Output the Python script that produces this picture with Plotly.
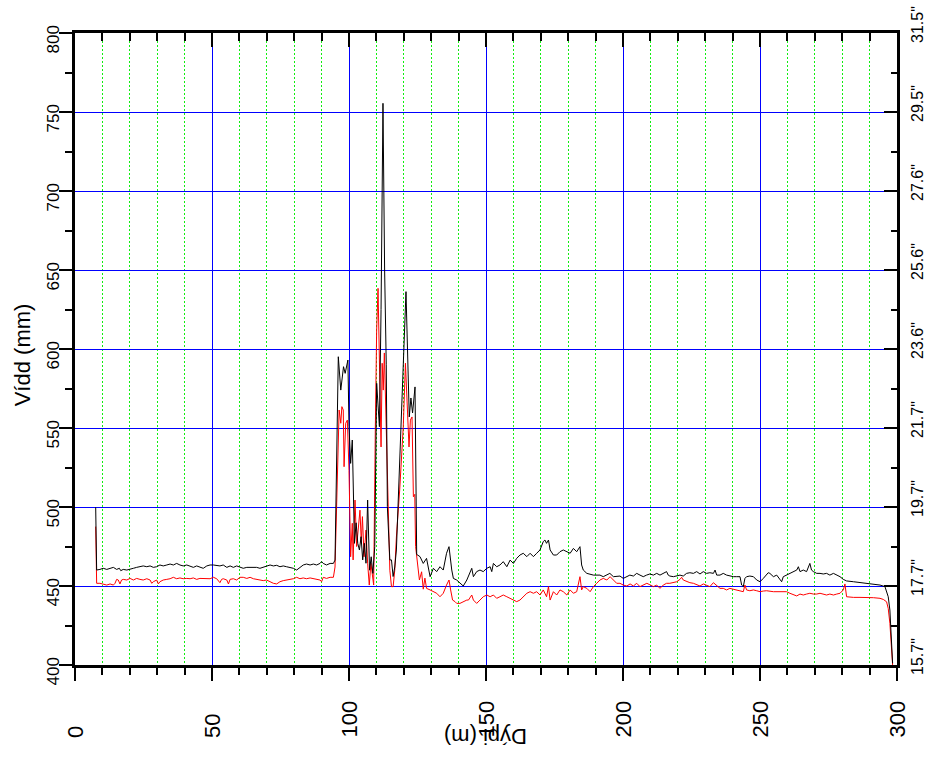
import plotly.graph_objects as go

# Borhola: vídd (mm) eftir dýpi (m) - tvær mælingar
depth_max = [7.55, 7.9, 9.1, 10.3, 11.6, 12.8, 14.0, 15.2, 16.2, 16.7, 17.6, 18.9, 20.1, 21.3, 22.5,
             23.7, 24.9, 26.2, 27.4, 28.6, 29.8, 31.0, 32.2, 33.5, 34.7, 35.9, 37.1, 38.3, 39.5, 40.8,
             42.0, 43.2, 44.4, 45.6, 46.8, 48.1, 49.3, 50.5, 51.7, 52.9, 54.1, 55.4, 56.6, 57.8, 59.0,
             60.2, 61.4, 62.7, 63.9, 65.1, 66.3, 67.5, 68.7, 69.9, 71.2, 72.4, 73.6, 74.8, 76.0, 77.2,
             78.5, 79.7, 80.9, 82.1, 83.3, 84.5, 85.8, 87.0, 88.2, 89.4, 90.0, 90.6, 91.8, 93.1, 94.3,
             94.9,
             96.1, 97.0, 98.0, 98.6, 99.6, 100.0, 100.6, 101.2, 101.7, 102.0, 102.6, 103.2, 103.8, 104.4,
             105.0, 105.6, 106.2, 106.8, 107.5, 108.1, 108.7, 109.4, 110.1, 110.5, 111.1, 111.7, 112.4,
             113.0, 113.6, 114.0, 114.9, 115.5, 116.1, 116.7, 117.3, 120.8, 122.0, 122.6, 123.2, 124.1,
             124.7,
             125.9, 127.1, 128.3, 129.6, 130.8, 132.0, 133.2, 134.4, 135.6, 136.5, 137.5, 138.1, 139.3,
             140.5, 141.7, 143.0, 144.2, 144.8, 145.4, 146.6, 147.8, 149.0, 150.3, 151.5, 152.1, 152.7,
             153.9, 155.1, 156.3, 157.6, 158.8, 160.0, 161.2, 162.4, 163.6, 164.9, 166.1, 167.3, 168.5,
             169.7, 170.9, 171.5, 172.1, 172.8, 173.4, 174.6, 175.8, 177.0, 178.2, 179.5, 180.7, 181.9,
             183.1, 184.3, 184.9, 185.5, 186.8,
             189.2, 191.6, 192.8, 194.0, 195.2, 196.5, 197.7, 198.9, 200.1, 201.3, 202.5, 203.8, 205.0,
             206.2, 207.4, 208.6, 209.8, 211.1, 212.3, 213.5, 214.7, 215.9, 216.5, 217.1, 218.4, 219.6,
             220.8, 222.0, 223.2, 224.4, 225.7, 226.9, 228.1, 229.3, 230.5, 231.7, 233.0, 233.6, 234.2,
             235.4, 236.6, 237.8, 239.0, 240.3, 241.5, 242.7, 243.3, 243.9, 244.5, 245.1, 246.3, 247.6,
             248.8, 250.0, 251.2, 252.4, 253.0, 253.6, 254.9, 256.1, 257.3, 257.9, 258.5, 259.7, 260.9,
             262.2, 263.4, 264.0, 264.6, 265.8, 267.0, 268.2, 268.8, 269.5, 270.7, 271.9, 273.1, 274.3,
             275.5, 276.8, 278.0, 279.2, 280.4, 281.6, 284.1, 286.5, 288.9, 291.4, 293.8, 295.6, 296.8,
             297.4, 298.0, 298.4]
width_max = [499.8, 460.1, 460.5, 461.2, 460.5, 461.2, 461.8, 460.5, 461.2, 459.7, 460.5, 460.1, 460.5, 461.2, 461.8,
             462.2, 462.7, 462.2, 462.7, 461.8, 462.2, 463.3, 462.7, 463.3, 463.9, 463.3, 464.3, 463.3, 462.7, 463.3,
             462.7, 461.8, 462.7, 461.8, 461.2, 462.7, 463.3, 463.3, 463.1, 462.7, 463.3, 461.8, 462.7, 461.8, 462.7,
             461.8, 461.2, 461.8, 461.8, 462.2, 461.8, 461.2, 461.8, 462.7, 463.3, 462.7, 463.1, 462.2, 462.7, 462.2,
             461.8, 461.2, 460.1, 461.8, 463.3, 463.9, 463.3, 463.9, 463.3, 464.3, 465.4, 464.3, 463.3, 464.3, 464.3,
             466.4,
             595.1, 574.0, 588.8, 584.6, 593.0, 550.8, 527.6, 542.4, 502.5, 477.0, 490.0, 477.0, 472.8, 481.2,
             466.5, 477.0, 464.4, 504.4, 460.0, 468.5, 458.0, 474.9, 578.3, 565.6, 550.8, 625.0, 755.5,
             650.0, 590.0, 500.2, 466.5, 466.5, 456.0, 462.0, 472.8, 636.3, 557.0, 569.0, 559.5, 576.0,
             470.0,
             468.6, 464.3, 467.5, 455.9, 461.2, 459.1, 462.2, 460.1, 470.7, 474.9, 460.1, 454.8, 453.8,
             451.7, 450.0, 453.8, 459.1, 461.2, 455.9, 459.1, 460.1, 459.1, 461.2, 462.2, 459.1, 464.3,
             462.2, 463.3, 465.4, 462.2, 466.4, 464.3, 467.5, 469.6, 470.7, 468.6, 470.7, 468.6, 470.7,
             472.8, 478.1, 479.1, 477.0, 479.1, 472.8, 469.6, 469.6, 471.7, 472.8, 471.7, 470.7, 473.8,
             471.7, 474.9, 463.3, 460.1, 458.0,
             456.9, 456.9, 455.9, 456.9, 458.0, 455.9, 455.9, 456.3, 454.8, 455.9, 456.9, 456.3, 458.0,
             456.9, 455.9, 456.9, 457.6, 456.9, 458.0, 456.9, 458.0, 459.1, 456.9, 456.3, 455.9, 456.3,
             456.9, 456.3, 458.0, 458.4, 458.0, 459.1, 457.6, 459.1, 458.0, 458.4, 458.0, 460.1, 456.9,
             456.9, 458.0, 456.9, 456.3, 455.9, 455.9, 455.9, 450.6, 449.6, 454.8, 455.9, 456.3, 455.9,
             453.8, 452.7, 454.8, 456.9, 458.4, 458.0, 455.9, 456.9, 453.8, 452.7, 455.9, 456.9, 458.0,
             459.1, 460.1, 462.2, 459.1, 460.1, 459.1, 464.3, 460.1, 459.1, 458.0, 458.0, 457.6, 458.0,
             456.9, 458.0, 456.9, 455.9, 454.2, 453.2, 452.7, 452.1, 451.7, 451.3, 450.6, 449.6, 443.2,
             434.8, 418.0, 401.0]

depth_min = [7.55, 7.9, 9.1, 10.3, 11.6, 12.8, 14.0, 14.6, 15.2, 15.8, 16.4, 17.0, 17.6, 18.9, 20.1,
             21.3, 22.5, 23.7, 24.9, 26.2, 27.4, 28.0, 28.6, 29.8, 30.4, 31.0, 32.2, 33.5, 34.7, 35.9,
             37.1, 38.3, 39.5, 40.8, 42.0, 43.2, 44.4, 45.6, 46.8, 48.1, 49.3, 50.5, 51.7, 52.9, 53.5,
             54.1, 55.4, 56.0, 56.6, 57.8, 59.0, 60.2, 61.4, 62.7, 63.9, 65.1, 66.3, 67.5, 68.7, 69.9,
             71.2, 72.4, 73.6, 74.8, 76.0, 77.2, 78.5, 79.7, 80.9, 82.1, 83.3, 84.5, 85.8, 87.0, 88.2,
             89.4, 90.0, 90.6, 91.8, 93.1, 94.3, 94.9,
             96.4, 97.0, 97.4, 97.9, 98.2, 98.8, 99.4, 100.0, 100.6, 101.2, 101.5, 102.2, 102.8, 103.4,
             104.0, 104.5, 104.9, 105.5, 106.2, 106.8, 107.4, 108.0, 108.6, 109.0, 109.6, 110.1, 110.6,
             111.3, 111.7, 112.1, 112.5, 112.9, 113.7, 114.3, 114.9, 115.5, 116.1, 116.7, 117.3, 118.5,
             119.8, 120.6, 121.3, 121.9, 122.4, 123.0, 123.5, 124.0, 124.3, 125.1, 125.7, 126.5, 127.1,
             127.7,
             128.3, 129.6, 130.8, 132.0, 133.2, 134.4, 135.6, 136.5, 137.1, 137.8, 138.7, 139.3, 140.5,
             141.7, 143.0, 143.6, 144.2, 144.8, 145.4, 146.6, 147.8, 149.0, 150.3, 151.5, 152.7, 153.9,
             155.1, 156.3, 157.6, 158.8, 160.0, 161.2, 162.4, 163.6, 164.9, 166.1, 167.3, 168.5, 169.7,
             170.9, 172.1, 172.8, 173.4, 174.6, 175.8, 177.0, 178.2, 179.5, 180.7, 181.9, 183.1, 184.3,
             184.9, 185.5, 186.8, 188.0, 189.2, 190.4, 191.6, 192.8, 194.1, 195.3, 196.5, 197.7, 198.9,
             200.1, 201.4, 202.6, 203.8, 205.0, 206.2, 207.4, 208.7,
             209.8, 211.1, 212.3, 213.5, 214.7, 215.9, 217.1, 218.4, 219.6, 220.8, 221.4, 222.0, 223.2,
             224.4, 225.7, 226.9, 228.1, 229.3, 230.5, 231.7, 233.0, 234.2, 235.4, 236.6, 237.8, 239.0,
             240.3, 241.5, 242.7, 243.9, 244.5, 245.1, 246.3, 247.6, 248.8, 250.0, 251.2, 252.4, 254.9,
             257.3, 259.7, 260.9, 262.2, 263.4, 264.6, 265.8, 267.0, 268.2, 269.5, 270.7, 271.9, 273.1,
             274.3, 275.5, 276.8, 278.0, 279.2, 280.4, 281.0, 281.6, 282.8, 284.1, 286.5, 288.9, 291.4,
             293.8, 295.0, 296.2, 296.8, 297.4, 298.0, 298.4]
width_min = [487.6, 451.7, 451.7, 451.3, 450.6, 451.3, 450.6, 451.7, 454.2, 453.8, 451.3, 453.8, 454.2, 453.8, 454.8,
             453.8, 454.8, 454.2, 453.8, 454.6, 453.8, 451.7, 452.7, 453.8, 451.3, 452.7, 453.8, 454.2, 454.6, 455.5,
             454.6, 455.1, 454.6, 454.8, 454.6, 455.1, 454.2, 454.8, 454.6, 454.8, 454.6, 455.5, 454.6, 452.1, 454.2,
             454.6, 453.8, 451.3, 454.2, 454.6, 453.8, 455.5, 455.5, 454.8, 455.5, 454.6, 454.2, 453.8, 453.4, 453.8,
             452.7, 451.7, 451.3, 452.7, 453.4, 453.8, 454.2, 454.6, 455.5, 454.6, 455.1, 454.6, 455.1, 454.6, 454.2,
             453.8, 452.7, 455.5, 454.8, 455.5, 455.5, 462.0,
             561.4, 553.0, 563.5, 561.4, 525.5, 553.0, 555.0, 523.0, 468.5, 489.7, 466.5, 504.4, 475.0, 485.4,
             498.0, 477.0, 493.9, 468.5, 485.4, 464.4, 450.6, 464.4, 455.9, 450.6, 548.7, 612.0, 638.4,
             574.0, 538.0, 591.0, 574.0, 597.5, 538.0, 485.0, 460.0, 449.6, 449.6, 460.0, 481.0, 510.8,
             550.8, 591.0, 555.0, 538.0, 555.0, 557.0, 506.5, 508.0, 475.0, 462.0, 453.8, 459.0, 448.0,
             455.0,
             448.5, 447.5, 446.4, 445.4, 443.2, 445.4, 450.6, 453.8, 447.5, 441.1, 440.1, 439.0, 439.0,
             440.1, 441.1, 441.1, 443.2, 444.3, 441.1, 439.0, 441.1, 443.2, 444.3, 443.2, 444.3, 442.2,
             443.2, 444.3, 443.2, 442.2, 441.1, 440.1, 441.1, 443.2, 445.4, 446.4, 445.4, 446.4, 444.3,
             447.5, 443.2, 449.6, 441.1, 446.4, 444.3, 447.5, 446.4, 444.3, 447.5, 445.4, 446.4, 455.9,
             447.5, 449.6, 448.5, 446.4, 449.6, 451.7, 453.8, 454.8, 453.8, 455.9, 453.8, 451.7, 451.7,
             450.6, 450.0, 451.3, 450.0, 451.7, 449.6, 450.6, 451.7,
             450.8, 449.6, 450.6, 448.5, 450.6, 451.7, 451.7, 452.1, 452.7, 454.2, 455.5, 453.8, 452.7,
             452.1, 451.7, 450.6, 450.0, 451.3, 450.6, 449.6, 452.1, 450.0, 448.5, 448.5, 447.5, 448.5,
             447.9, 447.5, 447.0, 446.4, 450.6, 447.5, 447.0, 447.5, 447.0, 446.4, 446.8, 447.0, 446.4,
             446.4, 446.4, 445.4, 444.3, 443.7, 444.9, 444.3, 444.9, 445.4, 444.9, 444.9, 445.4, 444.9,
             444.3, 444.9, 444.3, 444.9, 445.4, 447.5, 451.3, 443.2, 442.8, 442.8, 442.8, 442.8, 442.6,
             442.2, 441.5, 440.0, 435.8, 426.4, 407.4, 400.0]

# Ásar og merkingar
x_ticks = [0, 50, 100, 150, 200, 250, 300]
y_ticks = [400, 450, 500, 550, 600, 650, 700, 750, 800]
inch_labels = ['15.7"', '17.7"', '19.7"', '21.7"', '23.6"', '25.6"', '27.6"', '29.5"', '31.5"']
x_title = "Dýpi (m)"
y_title = "Vídd (mm)"

FONT = "Liberation Sans, Arial, Helvetica, sans-serif"

fig = go.Figure()
fig.add_trace(go.Scatter(x=depth_min, y=width_min, mode="lines",
                         line=dict(color="#ff0000", width=1),
                         xaxis="x", yaxis="y", showlegend=False, hoverinfo="skip"))
fig.add_trace(go.Scatter(x=depth_max, y=width_max, mode="lines",
                         line=dict(color="#000000", width=1),
                         xaxis="x2", yaxis="y2", showlegend=False, hoverinfo="skip"))

frame = dict(showline=True, linecolor="black", linewidth=2.5, tickcolor="black", tickwidth=2.2,
             showticklabels=False, zeroline=False, fixedrange=True)

fig.update_layout(
    width=932, height=765,
    margin=dict(l=75, r=35, t=33, b=100, pad=0),
    paper_bgcolor="white", plot_bgcolor="white",
    font=dict(family=FONT, color="black"),
    xaxis=dict(range=[0, 300], tickmode="array", tickvals=x_ticks, ticks="outside", ticklen=13,
               showgrid=True, gridcolor="#0000ff", gridwidth=1,
               minor=dict(tickmode="linear", tick0=0, dtick=10, ticks="outside", ticklen=7,
                          tickwidth=2.2, tickcolor="black", showgrid=True,
                          gridcolor="#11ee11", gridwidth=1, griddash="2px,2px"),
               **frame),
    xaxis2=dict(range=[0, 300], overlaying="x", side="top", anchor="y", tickmode="array",
                tickvals=x_ticks, ticks="inside", ticklen=14, showgrid=False,
                minor=dict(tickmode="linear", tick0=0, dtick=10, ticks="inside", ticklen=8,
                           tickwidth=2.2, tickcolor="black", showgrid=False),
                **frame),
    yaxis=dict(range=[400, 800], tickmode="array", tickvals=y_ticks, ticks="outside", ticklen=13,
               showgrid=True, gridcolor="#0000ff", gridwidth=1,
               minor=dict(tickmode="linear", tick0=400, dtick=25, ticks="outside", ticklen=7,
                          tickwidth=2.2, tickcolor="black", showgrid=False),
               **frame),
    yaxis2=dict(range=[400, 800], overlaying="y", side="right", anchor="x", tickmode="array",
                tickvals=y_ticks, ticks="inside", ticklen=13, showgrid=False,
                minor=dict(tickmode="linear", tick0=400, dtick=25, ticks="inside", ticklen=6,
                           tickwidth=2.2, tickcolor="black", showgrid=False),
                **frame),
)

annotations = []
# Dýpi – merkingar undir ásnum, lesnar upp á við
for v in x_ticks:
    annotations.append(dict(x=v, xref="x", y=0, yref="paper", yanchor="bottom", xanchor="center",
                            yshift=-75, textangle=-90, showarrow=False, text=str(v),
                            font=dict(family=FONT, size=22, color="black")))
# Vídd í mm vinstra megin
for v in y_ticks:
    annotations.append(dict(x=0, xref="paper", xanchor="center", xshift=-22.5, y=v, yref="y",
                            yanchor="middle", yshift=-7, textangle=-90, showarrow=False,
                            text=str(v), font=dict(family=FONT, size=17, color="black")))
# Vídd í tommum hægra megin
for v, lab in zip(y_ticks, inch_labels):
    annotations.append(dict(x=1, xref="paper", xanchor="center", xshift=20, y=v, yref="y",
                            yanchor="middle", yshift=8, textangle=-90, showarrow=False,
                            text=lab, font=dict(family=FONT, size=16, color="black")))
# Ásaheiti
annotations.append(dict(x=0.5, xref="paper", y=0, yref="paper", yanchor="middle", xanchor="center",
                        yshift=-72, textangle=180, showarrow=False, text=x_title,
                        font=dict(family=FONT, size=22, color="black")))
annotations.append(dict(x=0, xref="paper", xanchor="center", xshift=-53, y=0.49, yref="paper",
                        yanchor="middle", textangle=-90, showarrow=False, text=y_title,
                        font=dict(family=FONT, size=22, color="black")))
fig.update_layout(annotations=annotations)

fig.write_html("out.html", config=dict(displayModeBar=False))
